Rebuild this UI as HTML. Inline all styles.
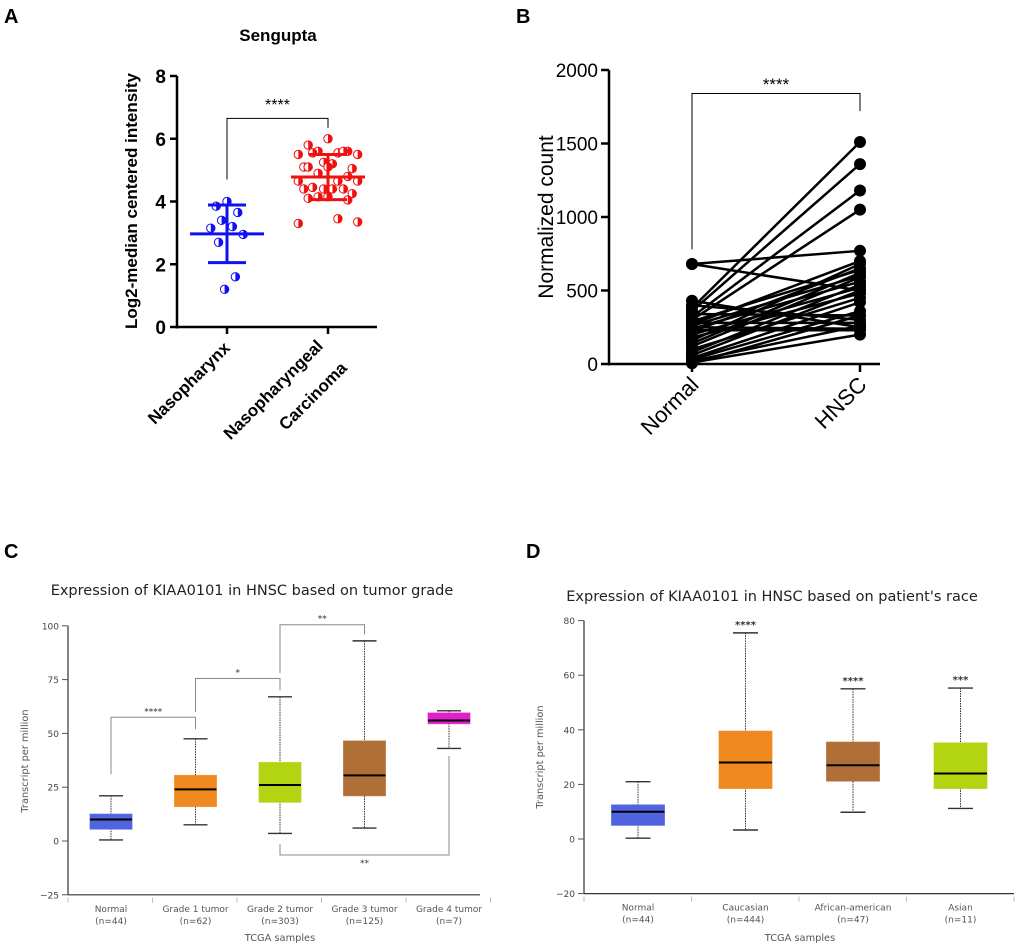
<!DOCTYPE html>
<html><head><meta charset="utf-8">
<style>
html,body{margin:0;padding:0;background:#fff;}
svg{display:block;}
.ab{font-family:"Liberation Sans",Arial,sans-serif;}
.cd{font-family:"DejaVu Sans","Liberation Sans",sans-serif;}
</style></head>
<body>
<svg id="fig" width="1020" height="950" viewBox="0 0 1020 950" xmlns="http://www.w3.org/2000/svg">
<g id="pA" class="ab">
<text x="4" y="23" font-size="20" font-weight="bold">A</text>
<text x="278" y="41" font-size="17" font-weight="bold" text-anchor="middle">Sengupta</text>
<text transform="translate(137,201) rotate(-90)" font-size="17" font-weight="bold" text-anchor="middle">Log2-median centered intensity</text>
</g>
<g id="pB" class="ab">
<text x="516" y="23" font-size="20" font-weight="bold">B</text>
<text transform="translate(553,217) rotate(-90)" font-size="21" text-anchor="middle">Normalized count</text>
</g>
<g id="pC" class="cd">
<text x="4" y="558" font-size="20" font-weight="bold" font-family="Liberation Sans">C</text>
<text x="252" y="595" font-size="14.5" text-anchor="middle" fill="#222">Expression of KIAA0101 in HNSC based on tumor grade</text>
<text transform="translate(28,761) rotate(-90)" font-size="9.8" text-anchor="middle" fill="#555">Transcript per million</text>
<text x="280" y="941" font-size="9.8" text-anchor="middle" fill="#555">TCGA samples</text>
</g>
<g id="pD" class="cd">
<text x="526" y="558" font-size="20" font-weight="bold" font-family="Liberation Sans">D</text>
<text x="772" y="601" font-size="14.5" text-anchor="middle" fill="#222">Expression of KIAA0101 in HNSC based on patient's race</text>
<text transform="translate(543,757) rotate(-90)" font-size="9.8" text-anchor="middle" fill="#555">Transcript per million</text>
<text x="800" y="941" font-size="9.8" text-anchor="middle" fill="#555">TCGA samples</text>
</g>
</svg>
<script>
const NS="http://www.w3.org/2000/svg";
function mk(parent,tag,attrs,txt){const e=document.createElementNS(NS,tag);for(const k in attrs)e.setAttribute(k,attrs[k]);if(txt!==undefined)e.textContent=txt;parent.appendChild(e);return e;}

// ---------- Panel A data ----------
const aCategories=["Nasopharynx","Nasopharyngeal|Carcinoma"];
const aYTicks=[0,2,4,6,8];
const aBlue=[4.0,3.85,3.65,3.4,3.2,3.15,2.95,2.7,1.6,1.2];
const aRed=[6.0,5.8,5.6,5.6,5.55,5.5,5.5,5.55,5.6,5.25,5.2,5.1,5.05,5.1,5.1,4.8,4.9,4.65,4.65,4.65,4.45,4.4,4.4,4.4,4.4,4.25,4.15,4.1,4.05,4.15,3.45,3.3,3.35];
const aMeanSD=[[2.97,0.92],[4.78,0.72]];
// ---------- Panel B data ----------
const bCategories=["Normal","HNSC"];
const bYTicks=[0,500,1000,1500,2000];
const bNormal=[680,680,430,400,380,360,340,320,300,290,280,270,260,250,240,230,220,200,180,160,140,120,100,80,60,40,30,20,10,5];
const bHNSC=[770,500,250,300,1510,1360,330,1180,1050,640,280,700,600,240,560,230,650,520,480,680,620,590,450,540,500,420,360,260,200,330];
// ---------- Panel C data ----------
const cCategories=["Normal","Grade 1 tumor","Grade 2 tumor","Grade 3 tumor","Grade 4 tumor"];
const cCounts=["(n=44)","(n=62)","(n=303)","(n=125)","(n=7)"];
const cYTicks=[-25,0,25,50,75,100];
const cMin=[0.5,7.5,3.5,6,43];
const cQ1=[5.5,16,18,21,54.5];
const cMed=[10,24,26,30.5,56];
const cQ3=[12.5,30.5,36.5,46.5,59.5];
const cMax=[21,47.5,67,93,60.5];
const cColors=["#5064e0","#f0891f","#b2d411","#b06f36","#e020c8"];
// ---------- Panel D data ----------
const dCategories=["Normal","Caucasian","African-american","Asian"];
const dCounts=["(n=44)","(n=444)","(n=47)","(n=11)"];
const dYTicks=[-20,0,20,40,60,80];
const dMin=[0.3,3.3,9.8,11.2];
const dQ1=[5,18.5,21.2,18.5];
const dMed=[10,28,27,24];
const dQ3=[12.5,39.5,35.5,35.2];
const dMax=[21,75.5,55,55.3];
const dColors=["#5064e0","#f0891f","#b06f36","#b2d411"];
const dStars=["","****","****","***"];

// ===== Panel A =====
(function(){
 const g=document.getElementById('pA');
 const y=v=>327-(v/8)*251; const xs=i=>227+i*101;
 mk(g,'line',{x1:177,y1:y(8),x2:177,y2:y(0)+1.5,stroke:'#000','stroke-width':2.5,});
 mk(g,'line',{x1:176,y1:y(0),x2:377,y2:y(0),stroke:'#000','stroke-width':2.5,});
 aYTicks.forEach(t=>{mk(g,'line',{x1:170,y1:y(t),x2:177,y2:y(t),stroke:'#000','stroke-width':2.5,});
  mk(g,'text',{x:166,y:y(t)+7,'font-size':19,'font-weight':'bold','text-anchor':'end',},t);});
 aCategories.forEach((c,i)=>{const x=xs(i);mk(g,'line',{x1:x,y1:y(0),x2:x,y2:y(0)+7,stroke:'#000','stroke-width':2.5,});
  const parts=c.split('|');
  parts.forEach((p,j)=>{const ax=x+4+(parts.length>1?(j===0?-8:16):0), ay=y(0)+22+(parts.length>1?(j===0?-2:20):0);
   mk(g,'text',{transform:`translate(${ax},${ay}) rotate(-45)`,'font-size':17,'font-weight':'bold','text-anchor':'end',},p);});
 });
 mk(g,'path',{d:`M${xs(0)},${y(4.7)} V${y(6.65)} H${xs(1)} V${y(6.35)}`,fill:'none',stroke:'#000','stroke-width':1,});
 mk(g,'text',{x:(xs(0)+xs(1))/2,y:y(7.1)+6,'font-size':16,'text-anchor':'middle',},'****');
 function pts(arr,cx,col,nm){
  const jit=[0,-18,18,-9,9,-27,27,-14,14,-4,4,-22,22];
  arr.forEach((v,i)=>{const x=cx+jit[i%jit.length]*(nm==='blue'?0.6:1.1);const yy=y(v);
   const c=mk(g,'g',{});
   
   
   mk(c,'circle',{cx:x,cy:yy,r:4.2,fill:'#fff',stroke:col,'stroke-width':1});
   mk(c,'path',{d:`M${x},${yy-4.2} A4.2,4.2 0 0 1 ${x},${yy+4.2} Z`,fill:col});
  });
 }
 pts(aBlue,xs(0),'#1010f0','blue');
 pts(aRed,xs(1),'#f01010','red');
 [[0,'#1010f0'],[1,'#f01010']].forEach(([i,col])=>{const x=xs(i),m=aMeanSD[i][0],s=aMeanSD[i][1];
  mk(g,'line',{x1:x-37,y1:y(m),x2:x+37,y2:y(m),stroke:col,'stroke-width':3,});
  mk(g,'line',{x1:x,y1:y(m-s),x2:x,y2:y(m+s),stroke:col,'stroke-width':3,});
  mk(g,'line',{x1:x-19,y1:y(m-s),x2:x+19,y2:y(m-s),stroke:col,'stroke-width':3,});
  mk(g,'line',{x1:x-19,y1:y(m+s),x2:x+19,y2:y(m+s),stroke:col,'stroke-width':3,});
 });
})();

// ===== Panel B =====
(function(){
 const g=document.getElementById('pB');
 const y=v=>364-(v/2000)*294; const xs=i=>692+i*168;
 mk(g,'line',{x1:609,y1:y(2000),x2:609,y2:y(0)+1.5,stroke:'#000','stroke-width':2.5,});
 mk(g,'line',{x1:608,y1:y(0),x2:880,y2:y(0),stroke:'#000','stroke-width':2.5,});
 bYTicks.forEach(t=>{mk(g,'line',{x1:601,y1:y(t),x2:609,y2:y(t),stroke:'#000','stroke-width':2.5,});
  mk(g,'text',{x:598,y:y(t)+7,'font-size':19,'text-anchor':'end',},t);});
 bCategories.forEach((c,i)=>{const x=xs(i);mk(g,'line',{x1:x,y1:y(0),x2:x,y2:y(0)+8,stroke:'#000','stroke-width':2.5,});
  mk(g,'text',{transform:`translate(${x+8},${y(0)+22}) rotate(-45)`,'font-size':22,'text-anchor':'end',},c);});
 mk(g,'path',{d:`M${xs(0)},${y(780)} V${y(1840)} H${xs(1)} V${y(1720)}`,fill:'none',stroke:'#000','stroke-width':1,});
 mk(g,'text',{x:(xs(0)+xs(1))/2,y:y(1920)+8,'font-size':17,'text-anchor':'middle',},'****');
 bNormal.forEach((v,i)=>{const l=mk(g,'line',{x1:xs(0),y1:y(v),x2:xs(1),y2:y(bHNSC[i]),stroke:'#000','stroke-width':2.5});
  
  });
 bNormal.forEach((v,i)=>{
  const a=mk(g,'circle',{cx:xs(0),cy:y(v),r:6,fill:'#000'});
  
  
  const b=mk(g,'circle',{cx:xs(1),cy:y(bHNSC[i]),r:6,fill:'#000'});
  
  });
})();

// ===== Box plot helper =====
function boxplot(g,cfg){
 const {x0,x1,y,cats,counts,ticks,mn,q1,md,q3,mx,cols,bw,cx,cap}=cfg;
 mk(g,'line',{x1:x0,y1:y(ticks[ticks.length-1]),x2:x0,y2:y(ticks[0]),stroke:'#333','stroke-width':1.2,});
 mk(g,'line',{x1:x0,y1:y(ticks[0]),x2:x1,y2:y(ticks[0]),stroke:'#333','stroke-width':1.2,});
 ticks.forEach(t=>{mk(g,'line',{x1:x0-6,y1:y(t),x2:x0,y2:y(t),stroke:'#555','stroke-width':1,});
  mk(g,'text',{x:x0-9,y:y(t)+3.5,'font-size':9,'text-anchor':'end',fill:'#444',},t===ticks[0]?'\u2212'+Math.abs(t):t);});
 const step=cx(1)-cx(0);
 for(let i=0;i<=cats.length;i++){const xx=x0+i*step; mk(g,'line',{x1:xx,y1:y(ticks[0])+3,x2:xx,y2:y(ticks[0])+8,stroke:'#bbb','stroke-width':1,});}
 cats.forEach((c,i)=>{const x=cx(i);
  mk(g,'text',{x:x,y:y(ticks[0])+17,'font-size':9,'text-anchor':'middle',fill:'#555',},c);
  mk(g,'text',{x:x,y:y(ticks[0])+29,'font-size':9,'text-anchor':'middle',fill:'#555',},counts[i]);
  mk(g,'line',{x1:x,y1:y(mx[i]),x2:x,y2:y(mn[i]),stroke:'#333','stroke-width':1,'stroke-dasharray':'1.5,1',});
  mk(g,'line',{x1:x-cap,y1:y(mx[i]),x2:x+cap,y2:y(mx[i]),stroke:'#333','stroke-width':1.4,});
  mk(g,'line',{x1:x-cap,y1:y(mn[i]),x2:x+cap,y2:y(mn[i]),stroke:'#333','stroke-width':1.4,});
  mk(g,'rect',{x:x-bw/2,y:y(q3[i]),width:bw,height:y(q1[i])-y(q3[i]),fill:cols[i],stroke:cols[i],'stroke-opacity':0.7,});
  mk(g,'line',{x1:x-bw/2,y1:y(md[i]),x2:x+bw/2,y2:y(md[i]),stroke:'#000','stroke-width':2,});
 });
}

// ===== Panel C =====
(function(){
 const g=document.getElementById('pC');
 const y=v=>841-v*2.152; const cx=i=>111+i*84.5;
 boxplot(g,{x0:68,x1:480,y,cats:cCategories,counts:cCounts,ticks:cYTicks,mn:cMin,q1:cQ1,md:cMed,q3:cQ3,mx:cMax,cols:cColors,bw:42,cx,cap:12});
 const br=(a,b,top,la,lb,stars,nm,below)=>{
  mk(g,'path',{d:`M${cx(a)},${y(la)} V${y(top)} H${cx(b)} V${y(lb)}`,fill:'none',stroke:'#888','stroke-width':1,});
  mk(g,'text',{x:(cx(a)+cx(b))/2,y:below?y(top)+11:y(top)-3,'font-size':9,'text-anchor':'middle',fill:'#333',},stars);};
 br(0,1,57.5,31,52,'****','bracket-normal-grade1');
 br(1,2,75.5,60,70,'*','bracket-grade1-grade2');
 br(2,3,100.5,78,96,'**','bracket-grade2-grade3');
 br(2,4,-6.5,-1.5,39.5,'**','bracket-grade2-grade4',true);
})();

// ===== Panel D =====
(function(){
 const g=document.getElementById('pD');
 const y=v=>839-v*2.73; const cx=i=>638+i*107.5;
 boxplot(g,{x0:584,x1:1014,y,cats:dCategories,counts:dCounts,ticks:dYTicks,mn:dMin,q1:dQ1,md:dMed,q3:dQ3,mx:dMax,cols:dColors,bw:53,cx,cap:12.5});
 dStars.forEach((s,i)=>{if(!s)return;const t=mk(g,'text',{x:cx(i),y:y(dMax[i])-5,'font-size':10,'font-weight':'bold','text-anchor':'middle',fill:'#333'},s);
  
  });
})();
</script>
</body></html>
